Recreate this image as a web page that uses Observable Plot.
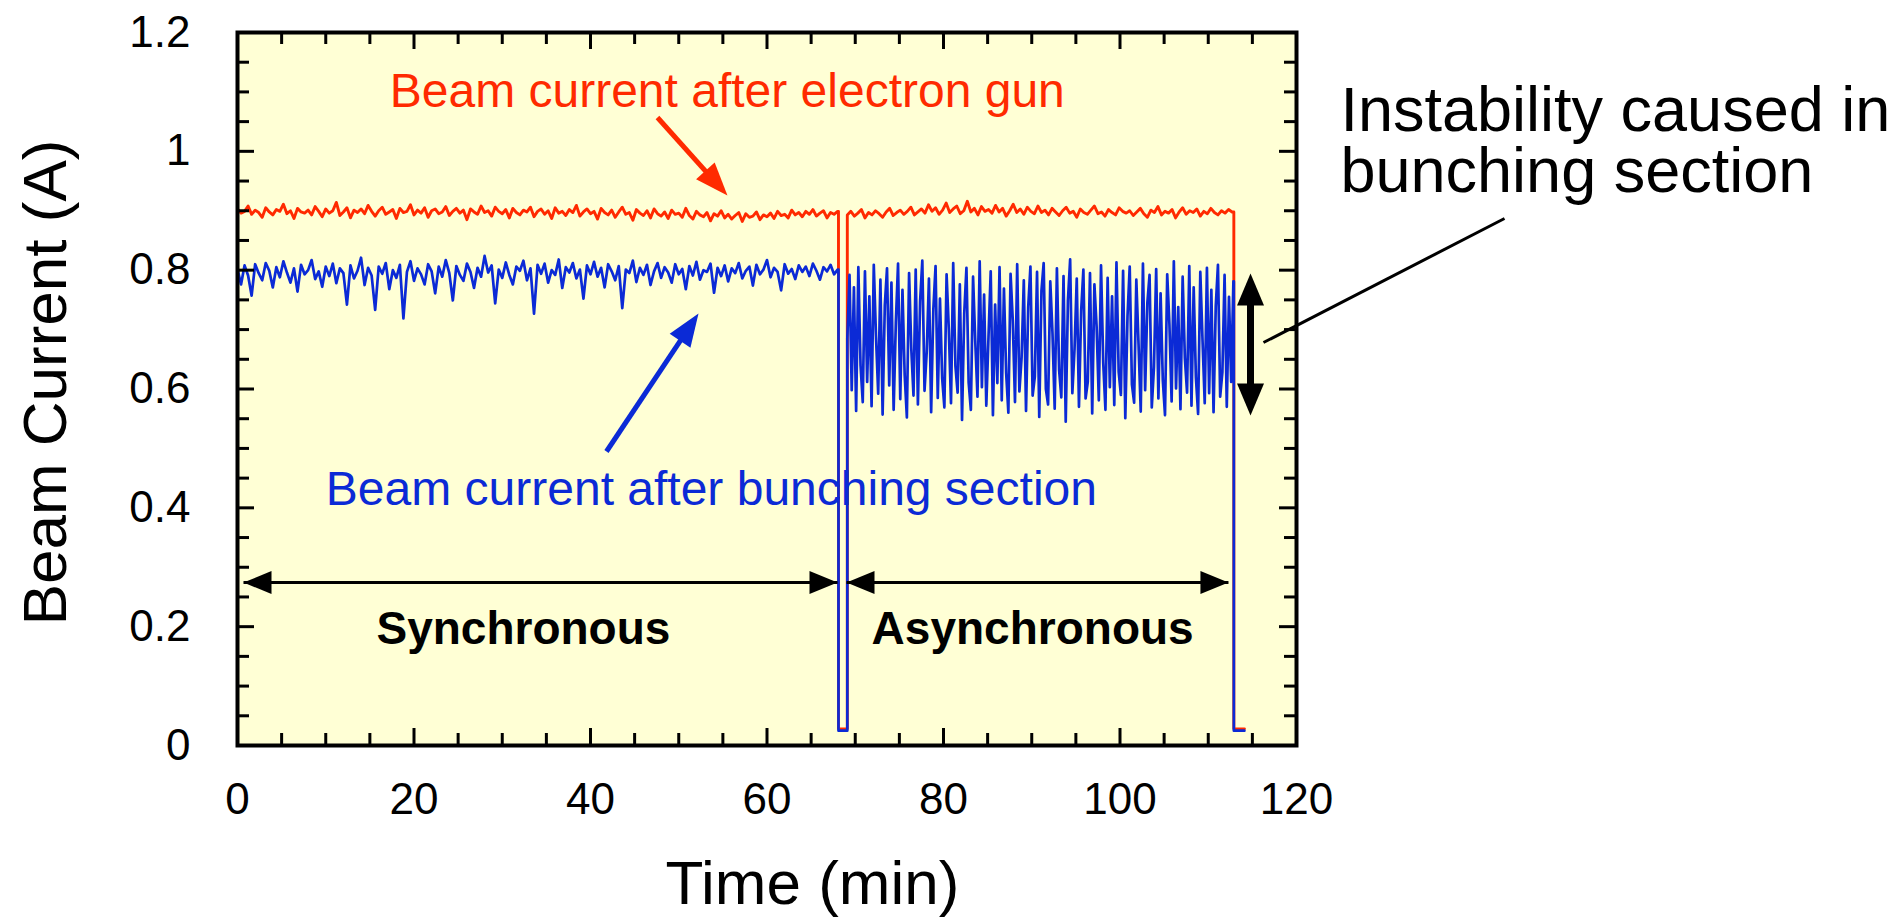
<!DOCTYPE html>
<html><head><meta charset="utf-8">
<script src="https://cdn.jsdelivr.net/npm/d3@7"></script>
<script src="https://cdn.jsdelivr.net/npm/@observablehq/plot@0.6"></script>
<style>html,body{margin:0;padding:0;background:#fff;overflow:hidden}</style>
</head><body><div id="chart"></div>
<script>
// ---------- data (values in mA) ----------
const syncStart = 0, syncStep = 0.4;      // min
const asyncStart = 69.1;                  // min
const gunAsyncStep = 0.4, bunchAsyncStep = 0.25;
const offPeriods = [[68.1, 69.1], [112.9, 114.1]];
const gunOffLevel = 0.028, bunchOffLevel = 0.025;

const gunSync_mA = [
903,896,899,908,894,901,897,889,905,898,893,902,899,911,895,900,887,904,898,896,
901,893,907,899,890,903,896,900,914,892,898,905,888,901,897,903,895,909,899,891,
900,906,894,898,902,887,904,897,899,910,893,901,896,905,889,900,903,895,898,907,
892,899,904,896,901,885,903,898,894,908,897,900,891,906,899,895,902,888,904,897,
893,901,898,906,890,899,903,894,900,887,905,896,899,892,902,897,909,891,898,903,
895,899,886,904,897,893,901,889,898,906,894,897,884,902,896,892,900,888,903,895,
891,898,887,901,894,896,889,904,892,886,899,893,890,897,883,895,891,900,888,894,
886,892,897,882,895,889,891,898,885,893,890,896,887,899,892,894,888,901,893,897,
890,899,894,902,891,896,900,888,897,894,899];
const gunAsync_mA = [
893,899,891,896,902,888,897,893,900,895,889,898,904,892,897,901,894,899,906,893,
898,903,896,910,899,905,894,901,913,897,903,908,895,900,916,898,904,893,907,899,
902,896,909,898,904,891,900,911,897,903,894,906,899,895,908,897,901,893,904,898,
892,900,906,896,899,889,903,897,894,901,908,895,898,891,902,897,893,905,899,896,
900,892,898,904,895,889,901,897,907,893,899,896,902,888,898,905,894,900,897,903,
891,899,895,904,897,893,900,896,902,898];
const bunchSync_mA = [
802,776,808,791,757,810,795,783,812,799,771,805,788,815,796,779,803,764,809,793,
800,817,785,798,772,806,790,811,778,803,795,742,808,786,799,821,775,804,791,733,
806,794,812,768,800,787,809,719,797,815,782,803,793,776,810,798,761,806,789,817,
795,749,807,792,782,811,797,770,804,789,824,796,808,744,801,787,813,792,776,806,
799,816,783,803,727,809,794,811,779,800,792,818,770,805,796,812,786,801,752,808,
793,814,789,804,771,810,798,783,807,736,801,795,816,780,804,792,809,775,798,812,
787,805,796,779,810,793,802,768,807,791,814,784,800,797,811,762,804,790,808,781,
803,795,812,786,799,806,774,809,793,801,817,788,804,797,766,810,794,802,785,808,
797,806,790,811,799,784,805,798,809,793,801];
const bunchAsync_mA = [
685,792,598,771,563,805,640,578,798,612,756,571,809,689,592,784,557,741,803,606,
779,565,712,811,583,767,624,552,795,668,589,801,574,748,816,597,663,786,561,734,
807,585,752,618,569,793,701,576,812,639,594,776,548,727,804,611,565,789,680,587,
815,603,759,572,688,798,556,742,610,805,581,769,627,560,794,715,578,810,596,653,
783,563,738,806,589,621,797,553,765,812,600,574,781,694,567,803,632,586,790,545,
749,818,593,668,786,570,731,801,584,612,795,559,776,705,581,808,644,565,787,603,
756,573,813,629,590,799,551,722,806,608,577,784,676,562,811,598,745,792,569,637,
802,584,761,615,556,793,709,579,815,601,738,566,789,652,594,807,572,771,620,558,
797,683,576,804,593,767,561,739,809,587,628,792,570,755,612,781];

const xMajorTicks = [0,20,40,60,80,100,120];
const xTickLabels = ["0","20","40","60","80","100","120"];
const xMinorTicks = [5,10,15,25,30,35,45,50,55,65,70,75,85,90,95,105,110,115];
const yMajorTicks = [0,0.2,0.4,0.6,0.8,1.0,1.2];
const yTickLabels = ["0","0.2","0.4","0.6","0.8","1","1.2"];
const yMinorTicks = [0.05,0.1,0.15,0.25,0.3,0.35,0.45,0.5,0.55,0.65,0.7,0.75,0.85,0.9,0.95,1.05,1.1,1.15];

const xTitle = "Time (min)", yTitle = "Beam Current (A)";

// annotations (data units)
const seriesLabels = [
  {text: "Beam current after electron gun", x: 55.5, y: 1.100, color: "gun"},
  {text: "Beam current after bunching section", x: 53.7, y: 0.430, color: "bunch"}
];
const phaseLabels = [
  {text: "Synchronous", x: 32.4, y: 0.196},
  {text: "Asynchronous", x: 90.1, y: 0.196}
];
const noteText = "Instability caused in\nbunching section";
const shafts = [
  {x1: 47.59, y1: 1.0569, x2: 54.00, y2: 0.9508, color: "gun", w: 5},
  {x1: 41.81, y1: 0.4948, x2: 50.98, y2: 0.6991, color: "bunch", w: 5},
  {x1: 0.68, y1: 0.2743, x2: 67.99, y2: 0.2743, color: "black", w: 2.8},
  {x1: 69.01, y1: 0.2743, x2: 112.29, y2: 0.2743, color: "black", w: 2.8},
  {x1: 114.79, y1: 0.757, x2: 114.79, y2: 0.592, color: "black", w: 7},
  {x1: 116.26, y1: 0.6782, x2: 143.57, y2: 0.8869, color: "black", w: 3}
];
const pointerHeads = [
  {x: 55.52, y: 0.9257, rot: 138, color: "gun"},
  {x: 52.24, y: 0.7271, rot: 34, color: "bunch"}
];
const spanHeads = [
  {x: 0.68, y: 0.2743, rot: 270},
  {x: 67.99, y: 0.2743, rot: 90},
  {x: 69.01, y: 0.2743, rot: 270},
  {x: 112.29, y: 0.2743, rot: 90}
];
const rangeHeads = [
  {x: 114.79, y: 0.7944, rot: 0},
  {x: 114.79, y: 0.5554, rot: 180}
];

// ---------- build ----------
const colors = {gun: "#ff2a00", bunch: "#0b2ad6", black: "#000000"};
function buildSeries(syncVals, asyncVals, asyncStep, off) {
  const rows = [];
  syncVals.forEach((v, i) => rows.push({t: syncStart + i * syncStep, v: v / 1000}));
  rows.push({t: offPeriods[0][0], v: syncVals[syncVals.length - 1] / 1000});
  rows.push({t: offPeriods[0][0], v: off});
  rows.push({t: offPeriods[0][1], v: off});
  asyncVals.forEach((v, i) => rows.push({t: asyncStart + i * asyncStep, v: v / 1000}));
  rows.push({t: offPeriods[1][0], v: asyncVals[asyncVals.length - 1] / 1000});
  rows.push({t: offPeriods[1][0], v: off});
  rows.push({t: offPeriods[1][1], v: off});
  return rows;
}
const gunRows = buildSeries(gunSync_mA, gunAsync_mA, gunAsyncStep, gunOffLevel);
const bunchRows = buildSeries(bunchSync_mA, bunchAsync_mA, bunchAsyncStep, bunchOffLevel);

const W = 1901, H = 917, mL = 237, mR = 605, mT = 32, mB = 172;
const plotW = W - mL - mR, plotH = H - mT - mB;
const font = "'Liberation Sans', Arial, Helvetica, sans-serif";

const head = (data, len, r, fill) => Plot.vector(data, {x: "x", y: "y", rotate: "rot", length: len, r: r,
  anchor: "end", shape: "spike", fill: fill, stroke: "none", strokeWidth: 0});

const chart = Plot.plot({
  width: W, height: H,
  marginLeft: mL, marginRight: mR, marginTop: mT, marginBottom: mB,
  style: {fontFamily: font, fontSize: "44px", color: "black", background: "white"},
  x: {domain: [0, 120], label: null},
  y: {domain: [0, 1.2], label: null},
  marks: [
    Plot.frame({fill: "#ffffd5", stroke: null}),
    Plot.line(gunRows, {x: "t", y: "v", stroke: colors.gun, strokeWidth: 2.9, strokeLinejoin: "round"}),
    Plot.line(bunchRows, {x: "t", y: "v", stroke: colors.bunch, strokeWidth: 2.7, strokeLinejoin: "round"}),
    // ticks (inward, on all four sides)
    Plot.ruleX(xMajorTicks, {x: d => d, stroke: "black", strokeWidth: 3, insetTop: plotH - 17}),
    Plot.ruleX(xMinorTicks, {x: d => d, stroke: "black", strokeWidth: 3, insetTop: plotH - 12}),
    Plot.ruleX(xMajorTicks, {x: d => d, stroke: "black", strokeWidth: 3, insetBottom: plotH - 17}),
    Plot.ruleX(xMinorTicks, {x: d => d, stroke: "black", strokeWidth: 3, insetBottom: plotH - 12}),
    Plot.ruleY(yMajorTicks, {y: d => d, stroke: "black", strokeWidth: 3, insetRight: plotW - 17}),
    Plot.ruleY(yMinorTicks, {y: d => d, stroke: "black", strokeWidth: 3, insetRight: plotW - 12}),
    Plot.ruleY(yMajorTicks, {y: d => d, stroke: "black", strokeWidth: 3, insetLeft: plotW - 17}),
    Plot.ruleY(yMinorTicks, {y: d => d, stroke: "black", strokeWidth: 3, insetLeft: plotW - 12}),
    Plot.frame({stroke: "black", strokeWidth: 4}),
    Plot.axisX(xMajorTicks, {anchor: "bottom", tickSize: 0, tickPadding: 37, fontSize: 44, label: null,
      tickFormat: d => xTickLabels[xMajorTicks.indexOf(d)]}),
    Plot.axisY(yMajorTicks, {anchor: "left", tickSize: 0, tickPadding: 47, fontSize: 44, label: null,
      tickFormat: d => yTickLabels[yMajorTicks.indexOf(d)]}),
    // axis titles
    Plot.text([xTitle], {x: 65.15, y: -0.234, text: d => d, fontSize: 62, fill: "black"}),
    Plot.text([yTitle], {x: -21.7, y: 0.611, text: d => d, fontSize: 62, fill: "black", rotate: -90}),
    // annotations
    Plot.link(shafts, {x1: "x1", y1: "y1", x2: "x2", y2: "y2", stroke: d => colors[d.color], strokeWidth: d => d.w}),
    head(pointerHeads, 33, 12.5, d => colors[d.color]),
    head(spanHeads, 28, 11.5, "black"),
    head(rangeHeads, 32, 13.5, "black"),
    Plot.text(seriesLabels, {x: "x", y: "y", text: "text", fill: d => colors[d.color], fontSize: 48}),
    Plot.text(phaseLabels, {x: "x", y: "y", text: "text", fill: "black", fontSize: 46, fontWeight: "bold"}),
    Plot.text([noteText], {x: 124.98, y: 1.107, text: d => d, textAnchor: "start", lineAnchor: "top",
      fontSize: 63, lineHeight: 0.97, fill: "black"})
  ]
});
document.getElementById("chart").appendChild(chart);
</script>
</body></html>
